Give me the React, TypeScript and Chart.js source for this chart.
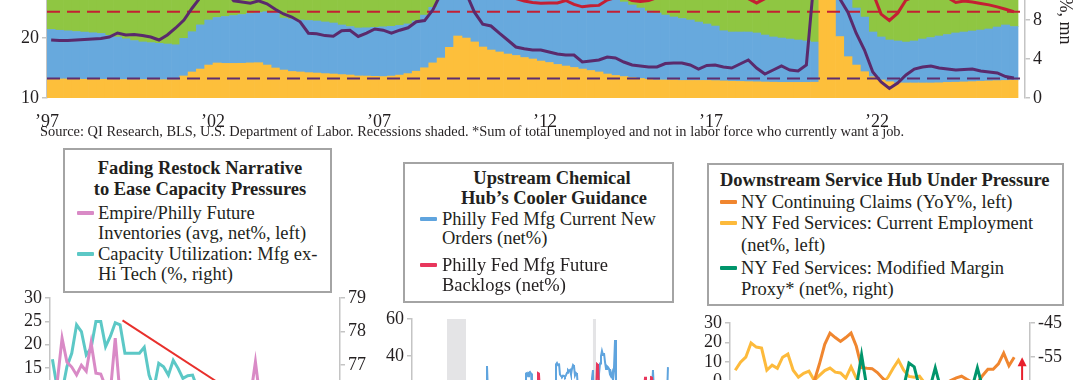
import React, { useEffect, useLayoutEffect, useRef, useState } from "react";
import { Chart, registerables } from "chart.js";
Chart.register(...registerables);

const FONT = '"Liberation Serif", "Times New Roman", serif';
const TEXT = "#231F20";
const AXIS_GREY = "#C4C4C4";

// ================= TOP CHART (quarterly, 1997Q1 .. 2026Q1) =================
const topStartYear = 1997;
const topTickYears = [1997, 2002, 2007, 2012, 2017, 2022];
const topXMax = 2026.46;
// bottom layer (right-axis units)
const areaOrange = [
  1.95, 1.95, 1.95, 1.95, 1.92, 1.92, 1.92, 1.92, 1.9, 1.9, 1.9, 1.9, 1.88, 1.88, 1.88, 1.88,
  2.26, 2.67, 2.97, 3.38, 3.59,
  3.55, 3.55, 3.56, 3.6, 3.62, 3.38, 3.08, 2.87, 2.72, 2.67,
  2.6, 2.56, 2.5, 2.46, 2.4, 2.36, 2.26, 2.25, 2.22, 2.2,
  2.25, 2.35, 2.5, 2.75, 3.1, 3.6, 4.1, 5.2, 6.36, 6.15,
  5.75, 5.23, 4.92, 4.72, 4.51, 4.36, 4.15, 4.0, 3.79, 3.64,
  3.44, 3.28, 3.13, 2.97, 2.82, 2.67, 2.46, 2.31, 2.2, 2.1,
  2.0, 1.92, 1.85, 1.85, 1.85, 1.8, 1.8, 1.8, 1.8, 1.78,
  1.75, 1.72, 1.7, 1.68, 1.66, 1.64, 1.62, 1.6, 1.6, 1.6,
  1.6, 1.62, 12.5, 11.5, 6.3, 4.24, 3.38, 2.7, 2.18, 1.85,
  1.67, 1.54, 1.54, 1.54, 1.54, 1.54, 1.56, 1.6, 1.62, 1.65,
  1.68, 1.72, 1.75, 1.78, 1.8, 1.83,
];
const areaBlue = [
  5.08, 5.0, 4.94, 4.87, 4.84, 4.77, 4.7, 4.51, 4.35, 4.17,
  3.99, 3.85, 3.8, 3.73, 3.66, 3.58, 3.86, 4.13, 4.53, 4.62,
  4.67, 4.81, 4.91, 5.0, 5.07, 5.15, 5.47, 5.77, 5.33, 5.38,
  5.33, 5.35, 5.34, 5.3, 5.23, 5.09, 4.97, 4.92, 4.95, 5.03,
  5.1, 5.1, 5.1, 5.1, 5.15, 5.4, 5.7, 6.2, 6.0, 5.64,
  6.45, 7.15, 7.77, 7.98, 8.08, 8.19, 8.24, 8.25, 8.3, 8.31,
  8.26, 8.26, 8.22, 8.17, 8.13, 8.08, 8.03, 7.99, 7.89, 7.65,
  7.44, 7.23, 7.0, 6.87, 6.66, 6.46, 6.35, 6.2, 5.99, 5.79,
  5.6, 5.15, 5.05, 5.07, 5.09, 5.01, 4.82, 4.64, 4.55, 4.45,
  4.35, 4.25, 4.12, 2.5, 2.5, 5.7, 6.76, 5.85, 5.6, 4.59,
  4.41, 4.28, 4.31, 4.2, 4.31, 4.51, 4.66, 4.8, 4.91, 5.05,
  5.12, 5.19, 5.25, 5.33, 5.5, 5.69, 5.5,
];
const areaGreen = [
  5.6, 5.6, 5.7, 5.7, 5.8, 5.8, 5.9, 6.0, 6.1, 6.1,
  6.2, 6.3, 6.3, 6.4, 6.4, 6.5, 6.3, 6.0, 5.8, 5.6,
  5.5, 5.4, 5.4, 5.3, 5.3, 5.2, 5.1, 5.1, 5.3, 5.4,
  5.5, 5.5, 5.6, 5.6, 5.7, 5.8, 5.8, 5.9, 5.9, 5.9,
  5.8, 5.8, 5.7, 5.6, 5.4, 5.0, 4.6, 4.2, 4.0, 3.9,
  3.8, 3.8, 3.9, 3.9, 4.0, 4.0, 4.1, 4.1, 4.2, 4.2,
  4.3, 4.3, 4.4, 4.4, 4.5, 4.5, 4.6, 4.7, 4.8, 4.9,
  5.0, 5.1, 5.2, 5.3, 5.4, 5.5, 5.5, 5.6, 5.6, 5.7,
  5.7, 5.8, 5.8, 5.8, 5.9, 5.9, 5.9, 6.0, 6.0, 6.0,
  6.0, 6.0, 6.0, 2.5, 2.5, 3.0, 3.0, 4.5, 5.0, 5.4,
  5.7, 5.8, 5.8, 5.8, 5.7, 5.7, 5.6, 5.6, 5.6, 5.5,
  5.5, 5.5, 5.4, 5.4, 5.3, 5.3, 5.3,
];
// purple line (left axis)
const linePurple = [
  19.67, 19.58, 19.6, 19.67, 19.75, 19.83, 19.92, 20.17, 20.83, 20.5,
  20.58, 20.42, 20.17, 19.67, 20.5, 21.67, 23.0, 25.0, 26.8, 28.0,
  29.0, 28.0, 26.2, 26.0, 25.8, 26.2, 25.7, 24.8, 24.0, 23.5,
  22.7, 20.8, 20.7, 20.4, 20.3, 21.2, 21.3, 20.25, 20.8, 21.5,
  21.3, 20.8, 21.3, 21.7, 22.7, 22.9, 24.7, 27.5, 30.0, 30.5,
  27.5, 24.3, 22.3, 22.0, 20.8, 19.67, 18.5, 18.2, 18.0, 18.0,
  17.67, 17.33, 17.17, 17.17, 16.0, 16.17, 16.33, 16.83, 16.67, 16.0,
  15.5, 15.33, 15.17, 15.17, 15.75, 15.83, 15.83, 15.5, 14.83, 15.42,
  15.5, 15.17, 15.0, 15.67, 16.33, 15.0, 14.0, 14.67, 15.33, 14.67,
  14.5, 15.5, 31.0, 30.0, 28.0, 26.6, 24.3, 20.8, 18.0, 14.33,
  12.67, 11.58, 12.5, 13.83, 14.83, 15.17, 15.33, 15.0, 14.83, 14.67,
  14.75, 14.83, 14.5, 14.33, 14.17, 13.58, 13.33,
];
// red line (right axis)
const lineRed = [
  11.6, 11.5, 11.4, 11.5, 11.7, 11.8, 11.9, 12.0, 12.1, 12.0,
  11.9, 11.8, 11.6, 11.4, 11.2, 11.0, 10.9, 10.8, 10.9, 11.0,
  11.1, 11.2, 11.3, 11.4, 11.5, 11.6, 11.6, 11.7, 11.7, 11.8,
  11.8, 11.8, 11.9, 11.9, 11.9, 12.0, 12.0, 12.0, 11.9, 11.8,
  11.7, 11.6, 11.5, 11.4, 11.2, 11.0, 10.9, 10.8, 10.7, 10.7,
  10.6, 10.6, 10.5, 10.5, 10.4, 10.3, 10.2, 9.95, 9.8, 9.72,
  9.75, 9.74, 10.0, 9.6, 9.35, 9.45, 9.5, 10.05, 10.3, 10.4,
  10.0, 9.9, 10.0, 10.3, 10.5, 10.6, 10.7, 10.7, 10.6, 10.5,
  10.4, 10.4, 10.3, 10.3, 10.2, 9.75, 10.2, 10.4, 10.5, 10.6,
  10.7, 10.8, 11.5, 12.0, 11.8, 11.5, 11.2, 11.0, 10.9, 10.8,
  8.6, 7.95, 8.7, 10.05, 10.4, 10.6, 10.7, 10.5, 10.3, 9.8,
  9.95, 9.85, 9.7, 9.55, 9.35, 9.1, 8.85,
];
const topRefRed = 8.85; // right axis
const topRefPurple = 13.25; // left axis

// ================= PANEL 1 (monthly) =================
const p1Inventories = [
  10, 12, 21.4, 16.3, 15.2, 13.5, 15.6, 14.3, 20.4, 13.9,
  13.7, 11, 10, 21.4, 9, 8, 10, 7, 9, 6,
  8, 5, 7, 4, 6, 3, 5, 2, 4, 6,
  3, 5, 2, 4, 1, 3, 5, 2, 4, 3,
  6, 9, 16.3, 8, 5, 7, 4, 6, 3, 5,
  2, 4, 6, 3, 5, 7, 4, 2, 5, 3,
];
const p1Capacity = [
  77.17, 76.3, 76.2, 76.95, 77.35, 78.2, 78.0, 77.3, 77.5, 78.3,
  78.3, 77.55, 77.86, 78.26, 78.2, 77.35, 77.35, 77.35, 77.35, 77.53,
  76.7, 76.3, 77.05, 76.95, 76.7, 77.14, 76.9, 76.6, 76.68, 76.7,
  76.3, 76.2, 76.0, 75.9, 76.1, 75.8, 75.7, 75.9, 75.6, 75.5,
  75.7, 75.4, 75.6, 75.5, 75.3, 75.5, 75.2, 75.4, 75.3, 75.1,
  75.3, 75.2, 75.0, 75.2, 75.1, 74.9, 75.1, 75.0, 74.9, 75.0,
];
const p1TrendMonths = [14.5, 50];
const p1TrendValues = [78.33, 75.0];

// ================= PANEL 2 (monthly vertices) =================
const p2BlueYears = [
  2005.0, 2006.0, 2007.0, 2008.0, 2008.5, 2009.0, 2009.5, 2010.0, 2010.5, 2011.0,
  2011.17, 2011.25, 2011.33, 2011.5, 2012.0, 2012.5, 2013.0, 2013.5, 2014.0, 2014.42,
  2014.5, 2014.58, 2014.67, 2014.75, 2014.83, 2014.92, 2015.0, 2015.5, 2016.0, 2016.5,
  2016.92, 2017.0, 2017.08, 2017.17, 2017.25, 2017.33, 2017.42, 2017.5, 2017.58, 2017.67,
  2017.75, 2017.83, 2017.92, 2018.0, 2018.08, 2018.17, 2018.25, 2018.33, 2018.42, 2018.5,
  2018.58, 2018.67, 2018.75, 2018.83, 2019.0, 2019.5, 2019.92, 2020.0, 2020.08, 2020.17,
  2020.25, 2020.33, 2020.42, 2020.5, 2020.58, 2020.67, 2020.75, 2020.83, 2020.92, 2021.0,
  2021.08, 2021.17, 2021.25, 2021.33, 2021.42, 2021.5, 2021.58, 2021.67, 2021.75, 2021.83,
  2021.92, 2022.0, 2022.08, 2022.5, 2023.0, 2023.5, 2024.0, 2024.5, 2024.92, 2025.0,
  2025.08, 2025.17, 2025.5, 2026.0, 2026.25, 2026.33,
];
const p2BlueValues = [
  12, 15, 10, -5, -30, -20, 5, 15, 12, 18,
  20, 34.6, 20, 5, 3, 0, 8, 15, 18, 20,
  30.5, 30.8, 29.0, 31.0, 31.4, 30.5, 22, 8, 2, 10,
  22, 35.5, 36.2, 35.0, 36.0, 30.0, 29.2, 28.8, 29.4, 29.2,
  28.6, 29.5, 31.0, 32.4, 31.8, 32.4, 30.0, 33.0, 35.1, 34.5,
  29.5, 30.8, 30.2, 22, 15, 10, 18, 28, 32.4, 0,
  -45, -20, 5, 20, 30, 36, 40, 42.7, 40.5, 41.6,
  37, 33, 34.5, 34, 33, 30, 29, 31, 27, 33,
  48.6, 26, 18, 10, -5, -10, 0, 8, 18, 22,
  32.4, 20, 10, 15, 18, 34,
];
const p2RedYears = [
  2005.0, 2006.0, 2007.0, 2008.0, 2008.75, 2009.5, 2010.5, 2011.5, 2012.5, 2013.5,
  2014.5, 2015.42, 2015.5, 2015.58, 2015.67, 2016.0, 2017.0, 2018.0, 2019.0, 2019.75,
  2020.17, 2020.33, 2020.42, 2020.5, 2020.58, 2021.0, 2022.0, 2023.0, 2024.0, 2024.33,
  2024.42, 2024.5, 2024.83, 2024.92, 2025.0, 2025.08, 2025.5, 2026.25,
];
const p2RedValues = [
  15, 18, 12, 5, -15, 5, 15, 12, 8, 14,
  18, 20, 30.8, 30.5, 20, 10, 20, 22, 12, 8,
  -10, 18, 35.7, 35.2, 24, 20, 10, 0, 10, 20,
  28.8, 22, 18, 28.6, 28.4, 20, 15, 18,
];
const p2RecessionStart = [2007.92, 2020.08];
const p2RecessionEnd = [2009.5, 2020.33];

// ================= PANEL 3 (monthly) =================
const p3Claims = [
  -15, -18, -20, -22, -20, -18, -16, -15, -14, -12,
  -10, -9, -8, -6, -4, 0, 9, 19, 24.8, 22.5,
  20.5, 22.5, 24.8, 18, 7, 6.7, 6.5, 4.5, 1.6, -1,
  -3, -4, -5, -6, -5, -6, -5, -4, -3, -3,
  -1, 0.5, 1.8, 2.6, 1, -0.5, -1, 3, 6.2, 6.2,
  9, 14.5, 8, 12.4,
];
const p3Employment = [
  5.7, 9.8, 12.4, 19.7, 17.6, 17.1, 5.7, 8.3, 6.7, 12.4,
  14, 5.7, 2.1, 4.1, 5.2, 0.5, 3.0, 5.5, 6.8, 4.7,
  4.3, 1.6, 7.4, 1.6, -2, -3, -4, -3, -1, 2,
  6.7, 10.9, 5.7, 2.5, 2.1, 2.6, -1, -3, -5, -4,
  -6, -5, -4, -6, -5, -3, -4, -2, -3, -4,
  -2, -3, -2, -3,
];
const p3Margin = [
  -66, -67, -65, -68, -66, -67, -65, -66, -68, -67,
  -66, -65, -67, -66, -68, -66, -65, -67, -66, -65,
  -66, -67, -65, -64, -54.4, -64, -66, -65, -67, -66,
  -65, -66, -64, -56.8, -57.9, -64, -66, -64, -58.2, -64,
  -65, -66, -67, -65, -66, -64, -58.2, -64, -65, -66,
  -65, -66, -64, -65,
];
const p3ArrowMonth = 54.5;
const p3ArrowTip = 12.4;

// ================= helpers =================
const tickFont = { family: FONT, size: 18 };
const setW = (w: number) => (s: any) => { s.width = w; };
const setH = (h: number) => (s: any) => { s.height = h; };
const intLabel = (v: any) => (Number.isInteger(v) ? String(v) : "");
const yAxis = (extra: any) => ({
  border: { display: true, color: AXIS_GREY, width: 1.5 },
  grid: { display: true, drawOnChartArea: false, drawTicks: true, tickLength: 5, color: AXIS_GREY, lineWidth: 1.5 },
  ...extra,
  ticks: { font: tickFont, color: TEXT, padding: 3, autoSkip: false, callback: intLabel, ...(extra.ticks || {}) },
});
const baseOpts = (padding: any) => ({
  responsive: false,
  animation: false as const,
  devicePixelRatio: 1,
  layout: { padding },
  plugins: { legend: { display: false }, tooltip: { enabled: false } },
  elements: { point: { radius: 0 }, line: { tension: 0 } },
});
const idxPts = (vals: number[]) => vals.map((v, i) => ({ x: i, y: v }));
const zipPts = (xs: number[], ys: number[]) => xs.map((x, i) => ({ x, y: ys[i] }));

// top plot: 180px tall, bottom edge at page y=98 (left 10..40, right 0..18.46)
const TOP_PLOT_H = 180;
const TOP_LEFT_MIN = 10;
const TOP_LEFT_MAX = 40;
const TOP_RIGHT_MAX = TOP_PLOT_H / 9.75;

function topConfig(): any {
  const qx = areaOrange.map((_, i) => topStartYear + i / 4);
  const mid = (vals: number[]) => vals.map((v, i) => ({ x: qx[i] + 0.125, y: v }));
  const flat = (v: number) => [{ x: topStartYear, y: v }, { x: topXMax, y: v }];
  const area = (vals: number[], color: string) => ({
    type: "bar", data: mid(vals), yAxisID: "ya", backgroundColor: color,
    borderWidth: 0, barPercentage: 1, categoryPercentage: 1, grouped: false,
  });
  return {
    type: "line",
    data: {
      datasets: [
        { data: mid(lineRed), yAxisID: "y2", borderColor: "#C41F33", borderWidth: 3, pointRadius: 0, fill: false },
        { data: mid(linePurple), yAxisID: "y", borderColor: "#5A2A6C", borderWidth: 3, pointRadius: 0, fill: false },
        { data: flat(topRefRed), yAxisID: "y2", borderColor: "#C41F33", borderWidth: 2, borderDash: [13, 7], pointRadius: 0, fill: false },
        { data: flat(topRefPurple), yAxisID: "y", borderColor: "#5E2E70", borderWidth: 2, borderDash: [13, 7], pointRadius: 0, fill: false },
        area(areaOrange, "#FDBF3B"),
        area(areaBlue, "#67A9DD"),
        area(areaGreen, "#8FC642"),
      ],
    },
    options: {
      ...baseOpts({ top: 30, left: 0, right: 0, bottom: 0 }),
      scales: {
        x: {
          type: "linear", min: topStartYear, max: topXMax, offset: false,
          afterBuildTicks: (s: any) => { s.ticks = topTickYears.map((v) => ({ value: v })); },
          ticks: { font: tickFont, color: TEXT, padding: 5, autoSkip: false, maxRotation: 0,
            callback: (v: any) => "\u2019" + String(v).slice(2) },
          grid: { display: false, offset: false }, border: { display: false },
          afterFit: setH(30),
        },
        y: yAxis({ position: "left", min: TOP_LEFT_MIN, max: TOP_LEFT_MAX, ticks: { stepSize: 10 }, afterFit: setW(47) }),
        y2: yAxis({ position: "right", min: 0, max: TOP_RIGHT_MAX, ticks: { stepSize: 4 }, afterFit: setW(55) }),
        ya: { display: false, stacked: true, min: 0, max: TOP_RIGHT_MAX },
      },
    },
  };
}

function p1Config(): any {
  return {
    type: "line",
    data: {
      datasets: [
        { data: zipPts(p1TrendMonths, p1TrendValues), yAxisID: "y2", borderColor: "#E8302C", borderWidth: 2, pointRadius: 0 },
        { data: idxPts(p1Inventories), yAxisID: "y", borderColor: "#D98AC6", borderWidth: 3, pointRadius: 0 },
        { data: idxPts(p1Capacity), yAxisID: "y2", borderColor: "#5CC8C6", borderWidth: 3, pointRadius: 0 },
      ],
    },
    options: {
      ...baseOpts({ top: 20, left: 0, right: 0, bottom: 20 }),
      scales: {
        x: { type: "linear", display: false, min: -0.5, max: 59.5 },
        y: yAxis({ position: "left", min: 0, max: 30, ticks: { stepSize: 5 }, afterFit: setW(50) }),
        y2: yAxis({ position: "right", min: 79 - 140 / 33.5, max: 79, ticks: { stepSize: 1 }, afterFit: setW(40) }),
      },
    },
  };
}

const recessionPlugin = {
  id: "recessionShade",
  beforeDatasetsDraw(chart: any) {
    const { ctx, chartArea, scales } = chart;
    ctx.save();
    ctx.fillStyle = "#E4E4E6";
    p2RecessionStart.forEach((s, i) => {
      const x0 = scales.x.getPixelForValue(s);
      const x1 = scales.x.getPixelForValue(p2RecessionEnd[i]);
      ctx.fillRect(x0, chartArea.top, Math.max(2, x1 - x0), chartArea.bottom - chartArea.top);
    });
    ctx.restore();
  },
};

function p2Config(): any {
  return {
    type: "line",
    data: {
      datasets: [
        { data: zipPts(p2RedYears, p2RedValues), borderColor: "#E8365C", borderWidth: 2, pointRadius: 0 },
        { data: zipPts(p2BlueYears, p2BlueValues), borderColor: "#5FA4DE", borderWidth: 2, pointRadius: 0 },
      ],
    },
    options: {
      ...baseOpts({ top: 20, left: 0, right: 8, bottom: 20 }),
      scales: {
        x: { type: "linear", display: false, min: 2005, max: 2005 + 260 / 12 },
        y: yAxis({ position: "left", min: -40, max: 60, ticks: { stepSize: 20 }, afterFit: setW(52) }),
      },
    },
    plugins: [recessionPlugin],
  };
}

const arrowPlugin = {
  id: "upArrow",
  afterDatasetsDraw(chart: any) {
    const { ctx, chartArea, scales } = chart;
    const x = scales.x.getPixelForValue(p3ArrowMonth);
    const tip = scales.y.getPixelForValue(p3ArrowTip);
    ctx.save();
    ctx.strokeStyle = "#E8202C";
    ctx.fillStyle = "#E8202C";
    ctx.lineWidth = 2;
    ctx.beginPath();
    ctx.moveTo(x, chartArea.bottom);
    ctx.lineTo(x, tip + 8);
    ctx.stroke();
    ctx.beginPath();
    ctx.moveTo(x, tip);
    ctx.lineTo(x - 4.5, tip + 9);
    ctx.lineTo(x + 4.5, tip + 9);
    ctx.closePath();
    ctx.fill();
    ctx.restore();
  },
};

function p3Config(): any {
  return {
    type: "line",
    data: {
      datasets: [
        { data: idxPts(p3Margin), yAxisID: "y2", borderColor: "#00956B", borderWidth: 3, pointRadius: 0 },
        { data: idxPts(p3Claims), yAxisID: "y", borderColor: "#F0862F", borderWidth: 3, pointRadius: 0 },
        { data: idxPts(p3Employment), yAxisID: "y", borderColor: "#FDBA3B", borderWidth: 3, pointRadius: 0 },
      ],
    },
    options: {
      ...baseOpts({ top: 20, left: 0, right: 0, bottom: 20 }),
      scales: {
        x: { type: "linear", display: false, min: -1, max: 56 },
        y: yAxis({ position: "left", min: -40, max: 30, ticks: { stepSize: 10 }, afterFit: setW(50) }),
        y2: yAxis({ position: "right", min: -85, max: -45, ticks: { stepSize: 10 }, afterFit: setW(50) }),
      },
    },
    plugins: [arrowPlugin],
  };
}

// ================= components =================
function ChartCanvas({ make, left, top, width, height }: any) {
  const ref = useRef<HTMLCanvasElement>(null);
  useEffect(() => {
    const chart = new Chart(ref.current as HTMLCanvasElement, make());
    return () => chart.destroy();
  }, []);
  return (
    <canvas ref={ref} width={width} height={height}
      style={{ position: "absolute", left, top, width, height }} />
  );
}

function Txt({ x, y, children, bold = false, size = 18.5, center = false }: any) {
  const lh = Math.round(size * 1.25);
  const style: any = {
    position: "absolute", top: y - lh / 2, lineHeight: `${lh}px`, height: lh,
    fontSize: size, fontWeight: bold ? 700 : 400, whiteSpace: "nowrap",
  };
  if (center) { style.left = x - 300; style.width = 600; style.textAlign = "center"; }
  else style.left = x;
  return <div style={style}>{children}</div>;
}

function FitTxt({ x, y, width, text, size }: any) {
  const ref = useRef<HTMLSpanElement>(null);
  const [fs, setFs] = useState(size);
  useLayoutEffect(() => {
    const el = ref.current;
    if (!el) return;
    const w = el.getBoundingClientRect().width;
    if (w > 0) setFs((size * width) / w);
  }, []);
  const lh = Math.round(fs * 1.25);
  return (
    <div style={{ position: "absolute", left: x, top: y - lh / 2, lineHeight: `${lh}px`, whiteSpace: "nowrap", fontSize: fs }}>
      <span ref={ref}>{text}</span>
    </div>
  );
}

function Dash({ x, y, w = 17, color }: any) {
  return <div style={{ position: "absolute", left: x, top: y - 2, width: w, height: 4, background: color, borderRadius: 1 }} />;
}

function Box({ l, t, r, b }: any) {
  return <div style={{ position: "absolute", left: l, top: t, width: r - l, height: b - t, border: "2px solid #A4A4A4", boxSizing: "border-box" }} />;
}

export default function App() {
  const topCanvasTop = 98 - TOP_PLOT_H - 30;
  return (
    <div style={{ position: "fixed", left: 0, top: 0, width: 1080, height: 380, overflow: "hidden", background: "#fff", fontFamily: FONT, color: TEXT }}>
      <ChartCanvas make={topConfig} left={0} top={topCanvasTop} width={1080} height={TOP_PLOT_H + 60} />
      <div style={{ position: "absolute", left: 1056, bottom: 380 - 44, writingMode: "vertical-rl", fontSize: 18, lineHeight: "20px", whiteSpace: "nowrap" }}>
        Unemployed %, mn
      </div>
      <FitTxt x={40} y={131} width={865} size={13.5}
        text="Source: QI Research, BLS, U.S. Department of Labor. Recessions shaded. *Sum of total unemployed and not in labor force who currently want a job." />

      {/* Panel 1 */}
      <Box l={63} t={148} r={332} b={293} />
      <Txt x={200} y={168} bold center>Fading Restock Narrative</Txt>
      <Txt x={200} y={189} bold center>to Ease Capacity Pressures</Txt>
      <Dash x={77} y={213} color="#D98AC6" />
      <Txt x={98} y={213}>Empire/Philly Future</Txt>
      <Txt x={98} y={233}>Inventories (avg, net%, left)</Txt>
      <Dash x={77} y={254} color="#5CC8C6" />
      <Txt x={98} y={254}>Capacity Utilization: Mfg ex-</Txt>
      <Txt x={98} y={274}>Hi Tech (%, right)</Txt>
      <ChartCanvas make={p1Config} left={0} top={278} width={380} height={180} />

      {/* Panel 2 */}
      <Box l={403} t={162} r={674} b={303} />
      <Txt x={552} y={178} bold center>Upstream Chemical</Txt>
      <Txt x={554} y={198} bold center>Hub’s Cooler Guidance</Txt>
      <Dash x={420} y={219} color="#5FA4DE" />
      <Txt x={442} y={219}>Philly Fed Mfg Current New</Txt>
      <Txt x={442} y={238}>Orders (net%)</Txt>
      <Dash x={420} y={265} color="#E8365C" />
      <Txt x={442} y={265}>Philly Fed Mfg Future</Txt>
      <Txt x={442} y={285}>Backlogs (net%)</Txt>
      <ChartCanvas make={p2Config} left={360} top={299} width={320} height={225} />

      {/* Panel 3 */}
      <Box l={707} t={163} r={1064} b={306} />
      <Txt x={720} y={180} bold>Downstream Service Hub Under Pressure</Txt>
      <Dash x={720} y={202} color="#F0862F" />
      <Txt x={741} y={202}>NY Continuing Claims (YoY%, left)</Txt>
      <Dash x={720} y={223} color="#FDBA3B" />
      <Txt x={741} y={223}>NY Fed Services: Current Employment</Txt>
      <Txt x={741} y={245}>(net%, left)</Txt>
      <Dash x={720} y={268} color="#00956B" />
      <Txt x={741} y={268}>NY Fed Services: Modified Margin</Txt>
      <Txt x={741} y={289}>Proxy* (net%, right)</Txt>
      <ChartCanvas make={p3Config} left={680} top={303} width={400} height={176} />
    </div>
  );
}
